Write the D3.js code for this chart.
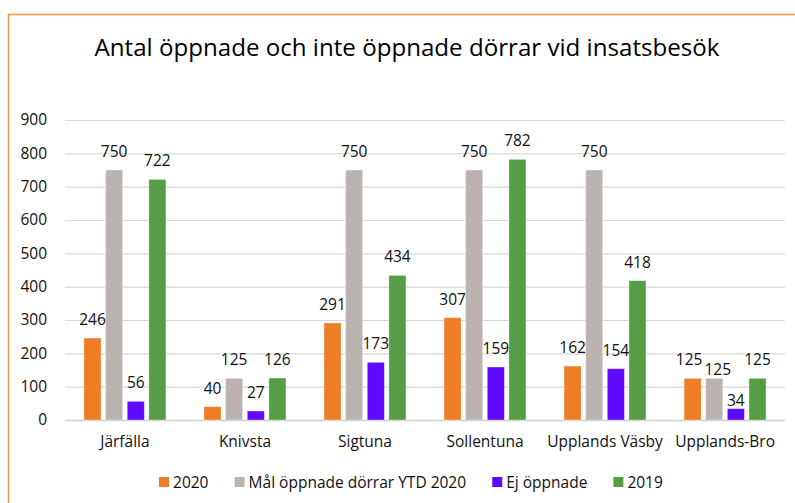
<!DOCTYPE html>
<html>
<head>
<meta charset="utf-8">
<script src="https://cdn.jsdelivr.net/npm/d3@7"></script>
<style>
  html, body { margin: 0; padding: 0; background: #fff; }
  svg { display: block; }
  text { font-family: "Open Sans", "Noto Sans", sans-serif; }
</style>
</head>
<body>
<svg id="chart" width="795" height="503"></svg>
<script>
const title = "Antal öppnade och inte öppnade dörrar vid insatsbesök";
const categories = ["Järfälla", "Knivsta", "Sigtuna", "Sollentuna", "Upplands Väsby", "Upplands-Bro"];
const seriesNames = ["2020", "Mål öppnade dörrar YTD 2020", "Ej öppnade", "2019"];
const values2020 = [246, 40, 291, 307, 162, 125];
const valuesMal = [750, 125, 750, 750, 750, 125];
const valuesEj = [56, 27, 173, 159, 154, 34];
const values2019 = [722, 126, 434, 782, 418, 125];
const yTicks = [0, 100, 200, 300, 400, 500, 600, 700, 800, 900];
const colors = ["#EE7D25", "#BAB3B0", "#5F0AFF", "#559E45"];

const seriesValues = [values2020, valuesMal, valuesEj, values2019];

const svg = d3.select("#chart");
const W = 795, H = 503;

// outer chart border (orange)
svg.append("rect")
  .attr("x", 8.5).attr("y", 14.5)
  .attr("width", W + 10).attr("height", H + 10)
  .attr("fill", "#fff")
  .attr("stroke", "#F0954A").attr("stroke-width", 1.5);

// title
svg.append("text")
  .attr("x", 407).attr("y", 56)
  .attr("text-anchor", "middle")
  .attr("font-size", 24)
  .attr("fill", "#000")
  .attr("textLength", 625)
  .attr("lengthAdjust", "spacingAndGlyphs")
  .text(title);

const plot = { left: 65, right: 785, top: 120, bottom: 420 };

const x0 = d3.scaleBand()
  .domain(categories)
  .range([plot.left, plot.right])
  .paddingInner(0.317)
  .paddingOuter(0.158);

const x1 = d3.scaleBand()
  .domain(seriesNames)
  .range([0, x0.bandwidth()])
  .paddingInner(0.21)
  .paddingOuter(0);

const y = d3.scaleLinear().domain([0, 900]).range([plot.bottom, plot.top]);

// gridlines
const grid = svg.append("g")
  .attr("transform", `translate(${plot.left},0)`)
  .call(d3.axisLeft(y).tickValues(yTicks).tickSize(-(plot.right - plot.left)).tickFormat(""));
grid.select(".domain").remove();
grid.selectAll(".tick line").attr("stroke", "#D9D9D9").attr("stroke-width", 1.2);

// y tick labels
const yAxis = svg.append("g")
  .attr("transform", `translate(50,0)`)
  .call(d3.axisLeft(y).tickValues(yTicks).tickSize(0).tickPadding(3));
yAxis.select(".domain").remove();
yAxis.selectAll("text")
  .attr("font-family", "'Open Sans', sans-serif")
  .attr("font-size", 15.5)
  .attr("fill", "#111");

// category axis
const xAxis = svg.append("g")
  .attr("transform", `translate(0,${plot.bottom})`)
  .call(d3.axisBottom(x0).tickSize(0).tickPadding(16).tickSizeOuter(0));
xAxis.select(".domain")
  .attr("d", `M${plot.left},0.5H${plot.right}`)
  .attr("stroke", "#D0D0D0").attr("stroke-width", 1.5);
xAxis.selectAll("text")
  .attr("font-family", "'Open Sans', sans-serif")
  .attr("font-size", 15.5)
  .attr("fill", "#111");

// bars
const rows = categories.map((c, ci) => ({
  cat: c,
  items: seriesNames.map((s, si) => ({ cat: c, series: s, si, value: seriesValues[si][ci] }))
}));

const groups = svg.append("g").selectAll("g")
  .data(rows).join("g")
  .attr("transform", d => `translate(${x0(d.cat)},0)`);

groups.selectAll("rect")
  .data(d => d.items).join("rect")
  .attr("x", d => x1(d.series))
  .attr("y", d => y(d.value))
  .attr("width", x1.bandwidth())
  .attr("height", d => y(0) - y(d.value))
  .attr("fill", d => colors[d.si])
  .attr("stroke", "#fff").attr("stroke-opacity", 0.45).attr("stroke-width", 0.8);

// data labels with simple collision avoidance
function overlaps(a, b) {
  return a.x < b.x + b.width && b.x < a.x + a.width &&
         a.y < b.y + b.height && b.y < a.y + a.height;
}
groups.each(function (row) {
  const g = d3.select(this);
  const placed = [];
  row.items.forEach(d => {
    const t = g.append("text")
      .attr("x", x1(d.series) + x1.bandwidth() / 2)
      .attr("y", y(d.value) - 13)
      .attr("text-anchor", "middle")
      .attr("font-size", 15.5)
      .attr("fill", "#111")
      .text(d.value);
    let bb = t.node().getBBox();
    for (const p of placed) {
      if (overlaps(bb, p.bb)) {
        // stagger vertically (like the original), then separate sideways
        t.attr("y", +t.attr("y") + 10);
        bb = t.node().getBBox();
        if (overlaps(bb, p.bb)) {
          const ov = (p.bb.x + p.bb.width) - bb.x;
          const half = ov / 2 + 1;
          p.t.attr("x", +p.t.attr("x") - half);
          p.bb = p.t.node().getBBox();
          t.attr("x", +t.attr("x") + half);
          bb = t.node().getBBox();
        }
      }
    }
    placed.push({ t, bb });
  });
});

// legend
const legend = svg.append("g").attr("transform", "translate(0,488)");
const items = legend.selectAll("g").data(seriesNames).join("g");
items.append("rect")
  .attr("y", -11).attr("width", 10).attr("height", 10)
  .attr("fill", (d, i) => colors[i]);
items.append("text")
  .attr("x", 14).attr("y", 0)
  .attr("font-size", 15.5)
  .attr("fill", "#111")
  .text(d => d);
const widths = [];
items.each(function () { widths.push(this.getBBox().width); });
const gap = 26;
const total = d3.sum(widths) + gap * (widths.length - 1);
let cx = 411 - total / 2;
items.attr("transform", (d, i) => {
  const tx = cx;
  cx += widths[i] + gap;
  return `translate(${tx},0)`;
});
</script>
</body>
</html>
